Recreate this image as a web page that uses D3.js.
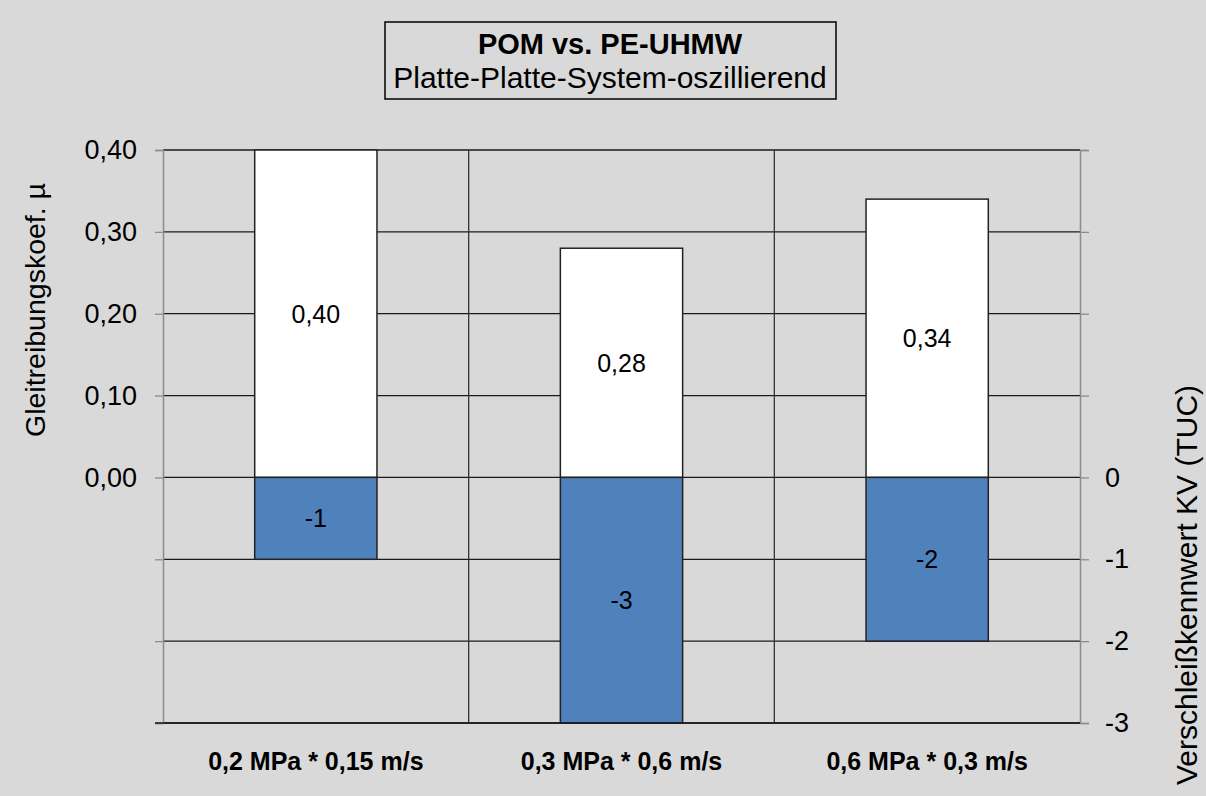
<!DOCTYPE html>
<html>
<head>
<meta charset="utf-8">
<script src="https://cdn.jsdelivr.net/npm/d3@7"></script>
<style>
  body { margin: 0; background: #d9d9d9; }
  text { font-family: "Liberation Sans", Arial, sans-serif; fill: #000; }
</style>
</head>
<body>
<script>
// chart data
var categories = ["0,2 MPa * 0,15 m/s", "0,3 MPa * 0,6 m/s", "0,6 MPa * 0,3 m/s"];
var frictionValues = [0.40, 0.28, 0.34];   // Gleitreibungskoef. µ
var wearValues = [-1, -3, -2];             // Verschleißkennwert KV
var leftTicks = [0, 0.1, 0.2, 0.3, 0.4];
var rightTicks = [0, -1, -2, -3];

var W = 1206, H = 796;
var plot = {left: 163, right: 1080, top: 150, bottom: 723};

var svg = d3.select("body").append("svg")
    .attr("width", W)
    .attr("height", H);

svg.append("rect").attr("width", W).attr("height", H).attr("fill", "#d9d9d9");

var x = d3.scaleBand()
    .domain(categories)
    .range([plot.left, plot.right])
    .paddingInner(0.6)
    .paddingOuter(0.3);

var xSep = d3.scaleBand().domain(categories).range([plot.left, plot.right]);

var y = d3.scaleLinear().domain([-0.3, 0.4]).range([plot.bottom, plot.top]);
var y2 = d3.scaleLinear().domain([-3, 4]).range([plot.bottom, plot.top]);

var fmt = function (d) { return d3.format(".2f")(d).replace(".", ","); };

// horizontal gridlines
var gridVals = d3.range(-3, 5).map(function (d) { return d / 10; });
svg.append("g").selectAll("line").data(gridVals).enter().append("line")
    .attr("x1", plot.left).attr("x2", plot.right)
    .attr("y1", function (d) { return y(d); })
    .attr("y2", function (d) { return y(d); })
    .attr("stroke", "#1a1a1a").attr("stroke-width", 1.3);

// category separators
svg.append("g").selectAll("line").data(categories.slice(1)).enter().append("line")
    .attr("x1", function (d) { return xSep(d); })
    .attr("x2", function (d) { return xSep(d); })
    .attr("y1", plot.top).attr("y2", plot.bottom)
    .attr("stroke", "#333").attr("stroke-width", 1.3);

// friction bars (white)
svg.append("g").selectAll("rect").data(frictionValues).enter().append("rect")
    .attr("x", function (d, i) { return x(categories[i]); })
    .attr("width", x.bandwidth())
    .attr("y", function (d) { return y(d); })
    .attr("height", function (d) { return y(0) - y(d); })
    .attr("fill", "#fff").attr("stroke", "#222").attr("stroke-width", 1.5);

// wear bars (blue)
svg.append("g").selectAll("rect").data(wearValues).enter().append("rect")
    .attr("x", function (d, i) { return x(categories[i]); })
    .attr("width", x.bandwidth())
    .attr("y", y2(0))
    .attr("height", function (d) { return y2(d) - y2(0); })
    .attr("fill", "#4f81bd").attr("stroke", "#222").attr("stroke-width", 1.5);

// data labels
svg.append("g").selectAll("text").data(frictionValues).enter().append("text")
    .attr("x", function (d, i) { return x(categories[i]) + x.bandwidth() / 2; })
    .attr("y", function (d) { return (y(d) + y(0)) / 2; })
    .attr("text-anchor", "middle").attr("dominant-baseline", "central")
    .attr("font-size", "25px")
    .text(fmt);

svg.append("g").selectAll("text").data(wearValues).enter().append("text")
    .attr("x", function (d, i) { return x(categories[i]) + x.bandwidth() / 2; })
    .attr("y", function (d) { return (y2(d) + y2(0)) / 2; })
    .attr("text-anchor", "middle").attr("dominant-baseline", "central")
    .attr("font-size", "25px")
    .text(function (d) { return d; });

// left axis
var leftAxis = d3.axisLeft(y)
    .tickValues(gridVals)
    .tickSize(8)
    .tickFormat(function (d) { return leftTicks.some(function (t) { return Math.abs(t - d) < 1e-9; }) ? fmt(d) : ""; });
var gl = svg.append("g").attr("transform", "translate(" + plot.left + ",0)").call(leftAxis);
gl.select(".domain").attr("stroke", "#8c8c8c").attr("stroke-width", 1.5);
gl.selectAll(".tick line").attr("stroke", "#8c8c8c").attr("stroke-width", 1.3);
gl.selectAll(".tick text")
    .attr("x", -26)
    .attr("font-size", "27px")
    .attr("font-family", "Liberation Sans, Arial, sans-serif")
    .attr("fill", "#000");

// right axis
var rightAxis = d3.axisRight(y2)
    .tickValues(d3.range(-3, 5))
    .tickSize(9)
    .tickFormat(function (d) { return rightTicks.indexOf(d) >= 0 ? d : ""; });
var gr = svg.append("g").attr("transform", "translate(" + plot.right + ",0)").call(rightAxis);
gr.select(".domain").attr("stroke", "#8c8c8c").attr("stroke-width", 1.5);
gr.selectAll(".tick line").attr("stroke", "#8c8c8c").attr("stroke-width", 1.3);
gr.selectAll(".tick text")
    .attr("x", 25)
    .attr("font-size", "27px")
    .attr("font-family", "Liberation Sans, Arial, sans-serif")
    .attr("fill", "#000");

// bottom axis line
svg.append("line")
    .attr("x1", plot.left - 8).attr("x2", plot.right)
    .attr("y1", plot.bottom).attr("y2", plot.bottom)
    .attr("stroke", "#1a1a1a").attr("stroke-width", 1.3);

// category labels
svg.append("g").selectAll("text").data(categories).enter().append("text")
    .attr("x", function (d) { return xSep(d) + xSep.bandwidth() / 2; })
    .attr("y", 770)
    .attr("text-anchor", "middle")
    .attr("font-size", "25px").attr("font-weight", "bold")
    .text(function (d) { return d; });

// axis titles
svg.append("text")
    .attr("transform", "translate(45," + 310 + ") rotate(-90)")
    .attr("text-anchor", "middle")
    .attr("font-size", "28.5px")
    .text("Gleitreibungskoef. µ");

svg.append("text")
    .attr("transform", "translate(1197," + 585 + ") rotate(-90)")
    .attr("text-anchor", "middle")
    .attr("font-size", "30px")
    .text("Verschleißkennwert KV (TUC)");

// title box
svg.append("rect")
    .attr("x", 385).attr("y", 22).attr("width", 451).attr("height", 77)
    .attr("fill", "#d9d9d9").attr("stroke", "#000").attr("stroke-width", 1.5);
svg.append("text")
    .attr("x", 610).attr("y", 54)
    .attr("text-anchor", "middle")
    .attr("font-size", "29px").attr("font-weight", "bold")
    .text("POM vs. PE-UHMW");
svg.append("text")
    .attr("x", 610).attr("y", 88)
    .attr("text-anchor", "middle")
    .attr("font-size", "30px")
    .text("Platte-Platte-System-oszillierend");
</script>
</body>
</html>
